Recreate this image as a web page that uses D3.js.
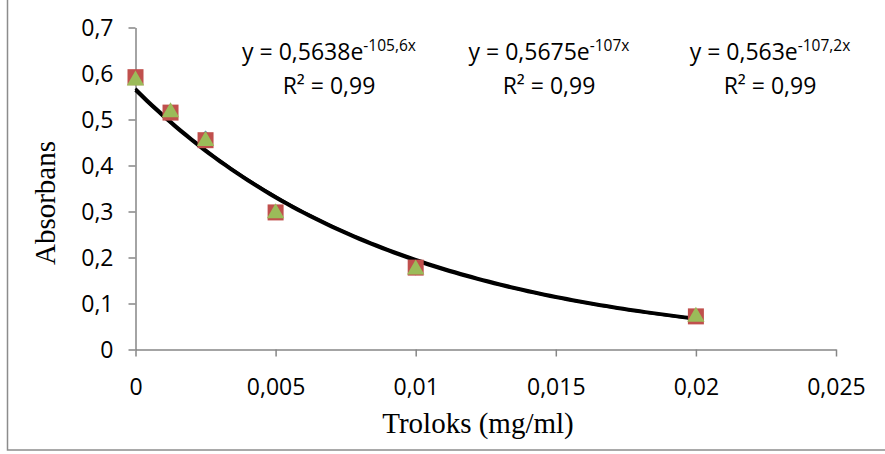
<!DOCTYPE html>
<html>
<head>
<meta charset="utf-8">
<script src="https://cdn.jsdelivr.net/npm/d3@7"></script>
<style>
  body { margin: 0; background: #fff; }
  svg { display: block; }
</style>
</head>
<body>
<script>
// data
const concentrations = [0, 0.00125, 0.0025, 0.005, 0.01, 0.02];
const seriesBlue = [0.59, 0.515, 0.46, 0.298, 0.177, 0.072];
const seriesRed = [0.592, 0.515, 0.455, 0.298, 0.178, 0.072];
const seriesGreen = [0.585, 0.516, 0.453, 0.296, 0.174, 0.071];
const fitA = [0.5638, 0.5675, 0.563];
const fitB = [105.6, 107, 107.2];
const eqLabels = ["0,5638e", "0,5675e", "0,563e"];
const eqExps = ["-105,6x", "-107x", "-107,2x"];
const xTicks = [0, 0.005, 0.01, 0.015, 0.02, 0.025];
const yTicks = [0, 0.1, 0.2, 0.3, 0.4, 0.5, 0.6, 0.7];

const width = 885, height = 454;
const fmt = d => String(d).replace(".", ",");

var svg = d3.select("body").append("svg")
  .attr("width", width)
  .attr("height", height);

// chart border
svg.append("rect")
  .attr("x", 7.5).attr("y", -5)
  .attr("width", 890).attr("height", 455)
  .attr("fill", "none")
  .attr("stroke", "#8c8c8c")
  .attr("stroke-width", 1.5);

var x = d3.scaleLinear().domain([0, 0.025]).range([135.5, 836]);
var y = d3.scaleLinear().domain([0, 0.7]).range([349.5, 27.5]);

var axisColor = "#868686";
var tickFont = "'Open Sans', sans-serif";

var gx = svg.append("g")
  .attr("transform", `translate(0,${y(0)})`)
  .call(d3.axisBottom(x).tickValues(xTicks).tickSize(7).tickSizeOuter(0).tickFormat(fmt));
var gy = svg.append("g")
  .attr("transform", `translate(${x(0)},0)`)
  .call(d3.axisLeft(y).tickValues(yTicks).tickSize(7).tickSizeOuter(0).tickFormat(fmt));

[gx, gy].forEach(g => {
  g.select(".domain").attr("stroke", axisColor).attr("stroke-width", 1.5);
  g.selectAll(".tick line").attr("stroke", axisColor).attr("stroke-width", 1.5);
  g.selectAll(".tick text")
    .attr("fill", "#000")
    .style("font-family", tickFont)
    .style("font-size", "23px");
});
gx.selectAll(".tick text").attr("dy", "0").attr("y", 45);
gy.selectAll(".tick text").attr("x", -22).attr("dy", "0.35em");

// axis titles
svg.append("text")
  .attr("x", 478).attr("y", 433)
  .attr("text-anchor", "middle")
  .style("font-family", "'Liberation Serif', serif")
  .style("font-size", "29px")
  .text("Troloks (mg/ml)");

svg.append("text")
  .attr("transform", "translate(55,203) rotate(-90)")
  .attr("text-anchor", "middle")
  .style("font-family", "'Liberation Serif', serif")
  .style("font-size", "29px")
  .text("Absorbans");

// trend lines
var line = d3.line().x(d => x(d[0])).y(d => y(d[1]));
var xs = d3.range(0, 0.0201, 0.0002);
fitA.forEach((a, i) => {
  svg.append("path")
    .datum(xs.map(v => [v, a * Math.exp(-fitB[i] * v)]))
    .attr("d", line)
    .attr("fill", "none")
    .attr("stroke", "#000")
    .attr("stroke-width", 2.8);
});

// markers
var pts = (vals) => concentrations.map((c, i) => [c, vals[i]]);

svg.append("g").selectAll("path")
  .data(pts(seriesBlue)).enter().append("path")
  .attr("transform", d => `translate(${x(d[0])},${y(d[1])})`)
  .attr("d", d3.symbol().type(d3.symbolDiamond2).size(140))
  .attr("fill", "#4f81bd");

svg.append("g").selectAll("rect")
  .data(pts(seriesRed)).enter().append("rect")
  .attr("x", d => x(d[0]) - 8)
  .attr("y", d => y(d[1]) - 8)
  .attr("width", 16).attr("height", 16)
  .attr("fill", "#c0504d");

svg.append("g").selectAll("path")
  .data(pts(seriesGreen)).enter().append("path")
  .attr("transform", d => `translate(${x(d[0])},${y(d[1])})`)
  .attr("d", d3.symbol().type(d3.symbolTriangle).size(130))
  .attr("fill", "#9bbb59");

// equations
var eqX = [329, 549, 770];
var eqFont = "'Open Sans', sans-serif";
eqX.forEach((cx, i) => {
  var t = svg.append("text")
    .attr("x", cx).attr("y", 60)
    .attr("text-anchor", "middle")
    .style("font-family", eqFont)
    .style("font-size", "23px");
  t.append("tspan").text("y = " + eqLabels[i]);
  t.append("tspan").attr("dy", -9).style("font-size", "15.5px").text(eqExps[i]);

  svg.append("text")
    .attr("x", cx).attr("y", 94)
    .attr("text-anchor", "middle")
    .style("font-family", eqFont)
    .style("font-size", "23px")
    .text("R² = 0,99");
});
</script>
</body>
</html>
